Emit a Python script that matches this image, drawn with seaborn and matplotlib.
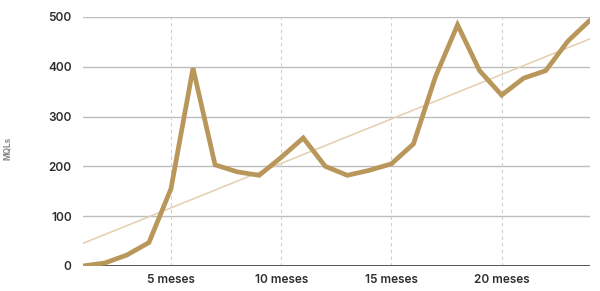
import numpy as np
import pandas as pd
import matplotlib
matplotlib.use("Agg")
import matplotlib.pyplot as plt
import seaborn as sns

months = list(range(1, 25))
mqls = [0, 6, 22, 47, 155, 397, 203, 189, 182, 218, 257, 200,
        182, 192, 205, 245, 380, 484, 392, 343, 377, 392, 451, 493]
xtick_values = [5, 10, 15, 20]
xtick_labels = ["5 meses", "10 meses", "15 meses", "20 meses"]
ytick_values = [0, 100, 200, 300, 400, 500]

df = pd.DataFrame({"mes": months, "mqls": mqls})

sns.set_theme(style="white")
plt.rcParams["font.family"] = ["Inter", "DejaVu Sans"]

fig = plt.figure(figsize=(6.0, 2.91), dpi=100)
ax = fig.add_axes([0.138, 0.086, 0.845, 0.856])

gold = "#b9975b"
trend = "#e3cfae"

# trend line (linear regression)
sns.regplot(data=df, x="mes", y="mqls", ax=ax, scatter=False, ci=None,
            truncate=True, line_kws={"color": trend, "lw": 1.1, "zorder": 3})

sns.lineplot(data=df, x="mes", y="mqls", ax=ax, color=gold, lw=3.4,
             zorder=4, solid_capstyle="round", solid_joinstyle="miter")

ax.set_xlim(1, 24)
ax.set_ylim(0, 500)

for y in ytick_values[1:]:
    ax.axhline(y, color="#bdbdbd", lw=1.0, zorder=1)
for x in xtick_values:
    ax.axvline(x, color="#cfcfcf", lw=0.8, ls=(0, (3, 3)), zorder=1)
ax.axhline(0, color="#555555", lw=1.4, zorder=2)

ax.set_xticks(xtick_values)
ax.set_xticklabels(xtick_labels)
ax.set_yticks(ytick_values)
ax.tick_params(axis="both", length=0, labelsize=8.5, colors="#2e2e2e")
ax.tick_params(axis="y", pad=8)
ax.tick_params(axis="x", pad=6)
for lbl in ax.get_xticklabels() + ax.get_yticklabels():
    lbl.set_fontweight("semibold")

for s in ax.spines.values():
    s.set_visible(False)

ax.set_xlabel("")
ax.set_ylabel("")
fig.text(0.012, 0.49, "MQLs", rotation=90, fontsize=6, color="#8a8a8a",
         ha="center", va="center", fontweight="bold")

fig.savefig("out.png", dpi=100, facecolor="white")
